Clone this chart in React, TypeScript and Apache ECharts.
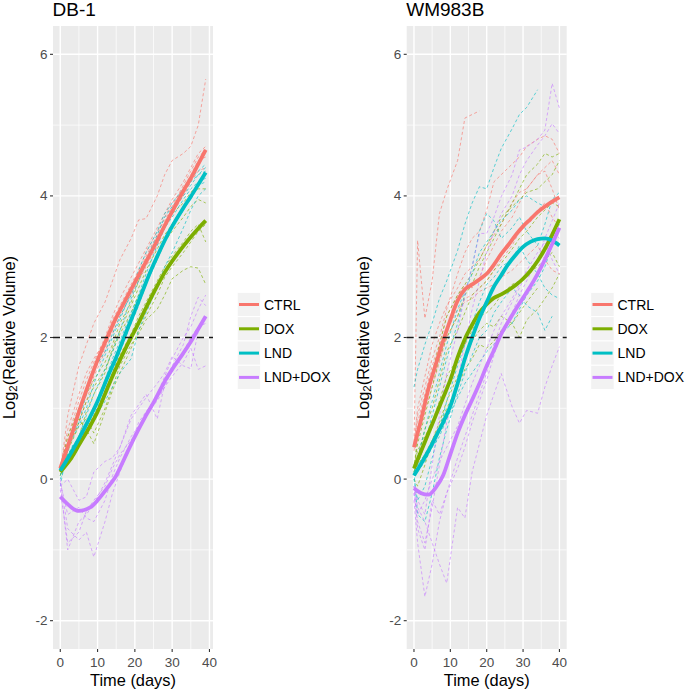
import React, { useEffect, useRef } from 'react';
import * as echarts from 'echarts';

const FONT = '"Liberation Sans", Arial, Helvetica, sans-serif';

const GROUPS = ['CTRL', 'DOX', 'LND', 'LND+DOX'];
const COLORS = ['#F8766D', '#7CAE00', '#00BFC4', '#C77CFF'];
const PANEL_TITLES = ['DB-1', 'WM983B'];

const yMajorTicks = [-2, 0, 2, 4, 6];
const yMinorTicks = [-1, 1, 3, 5];
const xMajorTicks = [0, 10, 20, 30, 40];
const xMinorTicks = [5, 15, 25, 35];
const thresholdValue = 2;

// ---------------- DB-1 ----------------
const db1SmoothDays = [0, 3, 5, 8, 10, 13, 15, 18, 20, 23, 25, 28, 30, 33, 35, 37, 39];
const db1SmoothCTRL = [0.15, 0.62, 0.95, 1.4, 1.68, 2.05, 2.28, 2.58, 2.78, 3.07, 3.27, 3.58, 3.78, 4.07, 4.25, 4.45, 4.65];
const db1SmoothDOX = [0.1, 0.3, 0.48, 0.75, 0.95, 1.33, 1.57, 1.9, 2.1, 2.42, 2.63, 2.92, 3.08, 3.29, 3.42, 3.54, 3.65];
const db1SmoothLND = [0.12, 0.38, 0.57, 0.88, 1.1, 1.48, 1.72, 2.12, 2.38, 2.78, 3.03, 3.37, 3.57, 3.83, 3.99, 4.16, 4.33];
const db1SmoothLNDDOX = [-0.25, -0.4, -0.45, -0.4, -0.3, -0.1, 0.05, 0.38, 0.6, 0.9, 1.08, 1.38, 1.55, 1.78, 1.94, 2.12, 2.3];

const db1MouseDays = [0, 2, 5, 7, 9, 12, 14, 16, 19, 21, 23, 26, 28, 30, 33, 35, 37, 39];
const db1MiceCTRL = [
  [0.1, 0.9, 1.6, 1.9, 2.2, 2.5, 2.8, 3.1, 3.4, 3.66, 3.68, 4.0, 4.3, 4.5, 4.6, 4.7, 5.0, 5.65],
  [0.15, 0.6, 1.1, 1.4, 1.65, 2.0, 2.3, 2.55, 2.85, 3.05, 3.25, 3.55, 3.75, 3.95, 4.2, 4.4, 4.6, 4.7],
  [0.2, 0.5, 0.9, 1.3, 1.5, 1.85, 2.1, 2.4, 2.7, 2.9, 3.15, 3.45, 3.7, 3.9, 4.1, 4.3, 4.5, 4.55],
  [0.1, 0.4, 0.8, 1.1, 1.45, 1.8, 2.05, 2.3, 2.6, 2.8, 3.0, 3.3, 3.55, 3.75, 4.0, 4.2, 4.35, 4.4],
  [0.15, 0.7, 1.2, 1.5, 1.7, 1.95, 2.25, 2.45, 2.75, 2.95, 3.2, 3.5, 3.65, 3.85, 4.15, 4.35, 4.55, 4.65],
];
const db1MiceDOX = [
  [0.05, 0.3, 0.6, 0.95, 1.2, 1.5, 1.85, 2.1, 2.45, 2.7, 2.95, 3.25, 3.45, 3.6, 3.85, 4.0, 4.1, 4.1],
  [0.1, 0.45, 0.8, 1.1, 1.3, 1.55, 1.8, 2.05, 2.35, 2.6, 2.8, 3.1, 3.35, 3.5, 3.7, 3.85, 3.95, 3.9],
  [0.1, 0.35, 0.55, 0.7, 0.9, 1.2, 1.5, 1.75, 2.05, 2.3, 2.5, 2.8, 3.0, 3.15, 3.35, 3.5, 3.6, 3.35],
  [0.05, 0.4, 0.75, 0.85, 0.65, 1.0, 1.3, 1.6, 1.9, 2.05, 2.25, 2.4, 2.6, 2.83, 2.95, 3.0, 2.98, 2.75],
  [0.15, 0.6, 1.0, 1.2, 1.4, 1.65, 1.9, 2.2, 2.5, 2.8, 3.05, 3.35, 3.6, 3.75, 3.9, 4.05, 4.15, 4.3],
  [0.1, 0.5, 0.85, 0.7, 0.5, 0.95, 1.25, 1.5, 1.85, 2.1, 2.3, 2.6, 2.85, 3.0, 3.2, 3.35, 3.5, 3.6],
];
const db1MiceLND = [
  [0.1, 0.35, 0.6, 0.9, 1.2, 1.55, 1.8, 2.1, 2.55, 2.8, 3.1, 3.45, 3.7, 3.85, 4.05, 4.2, 4.3, 4.35],
  [0.15, 0.45, 0.75, 1.0, 1.35, 1.75, 2.0, 2.25, 2.65, 2.95, 3.2, 3.5, 3.75, 3.9, 4.1, 4.25, 4.35, 4.45],
  [0.0, 0.3, 0.5, 0.75, 1.0, 1.4, 1.7, 1.95, 2.35, 2.6, 2.9, 3.3, 3.55, 3.7, 3.95, 4.1, 4.2, 4.25],
  [0.1, 0.4, 0.55, 0.65, 0.9, 1.25, 1.5, 1.8, 2.2, 2.45, 2.75, 3.1, 3.35, 3.55, 3.8, 4.0, 4.15, 4.2],
  [0.05, 0.5, 0.8, 1.2, 1.55, 1.8, 2.05, 2.3, 2.6, 2.85, 3.05, 3.4, 3.6, 3.8, 4.0, 4.15, 4.3, 4.4],
  [-0.1, 0.45, 0.5, 0.65, 0.85, 1.1, 1.3, 1.5, 1.7, 2.1, 2.35, 2.7, 3.0, 3.2, 3.55, 3.8, 4.0, 4.1],
];
const db1MiceLNDDOX = [
  [-0.05, -1.0, -0.6, -0.5, -0.35, -0.05, 0.2, 0.45, 0.85, 1.0, 1.15, 1.35, 1.5, 1.73, 1.6, 1.56, 2.1, 2.3],
  [0.0, -0.7, -0.86, -0.75, -1.1, -0.6, -0.2, 0.1, 0.5, 0.8, 0.95, 1.1, 1.3, 1.55, 1.8, 2.0, 2.15, 2.2],
  [-0.1, 0.0, -0.3, -0.25, 0.1, 0.25, 0.3, 0.45, 0.9, 1.05, 1.2, 0.85, 1.35, 1.6, 1.9, 2.3, 2.57, 2.45],
  [-0.05, -0.5, -0.4, -0.55, -0.6, -0.3, 0.05, 0.3, 0.6, 0.75, 0.9, 1.2, 1.45, 1.7, 2.0, 2.15, 2.4, 2.6],
  [-0.15, -0.9, -0.75, -0.45, -0.3, -0.1, 0.15, 0.35, 0.55, 0.7, 0.95, 1.15, 1.3, 1.45, 1.65, 1.85, 1.55, 1.6],
];

// ---------------- WM983B ----------------
const wmSmoothDays = [0, 2, 4, 6, 8, 10, 12, 14, 16, 18, 20, 22, 24, 26, 28, 30, 32, 34, 36, 38, 40];
const wmSmoothCTRL = [0.45, 0.85, 1.28, 1.62, 1.95, 2.25, 2.52, 2.68, 2.75, 2.82, 2.9, 3.03, 3.18, 3.31, 3.45, 3.57, 3.67, 3.77, 3.85, 3.92, 3.98];
const wmSmoothDOX = [0.15, 0.4, 0.65, 0.9, 1.15, 1.4, 1.72, 1.98, 2.18, 2.35, 2.47, 2.56, 2.61, 2.67, 2.74, 2.83, 2.94, 3.08, 3.25, 3.45, 3.67];
const wmSmoothLND = [0.05, 0.22, 0.4, 0.6, 0.8, 1.03, 1.35, 1.7, 2.0, 2.27, 2.5, 2.72, 2.88, 3.04, 3.17, 3.28, 3.35, 3.39, 3.4, 3.37, 3.3];
const wmSmoothLNDDOX = [-0.13, -0.2, -0.22, -0.12, 0.05, 0.35, 0.65, 0.9, 1.12, 1.35, 1.6, 1.82, 2.05, 2.23, 2.4, 2.56, 2.72, 2.9, 3.1, 3.32, 3.55];

const wmMouseDays = [0, 1, 3, 5, 7, 9, 12, 14, 16, 18, 20, 22, 24, 27, 29, 31, 34, 36, 38, 40];
const wmMiceCTRL = [
  [0.45, 3.37, 2.27, 2.8, 3.75, 4.08, 4.5, 5.1, 5.15, 5.2],
  [0.5, 0.9, 1.3, 1.7, 2.0, 2.4, 2.9, 3.2, 3.4, 3.5, 3.8, 4.2, 4.3, 4.45, 4.55, 4.7, 4.8, 4.85, 4.8, 4.6],
  [0.4, 0.8, 1.2, 1.6, 1.9, 2.3, 2.6, 2.75, 2.7, 2.85, 3.1, 3.3, 3.5, 3.7, 3.9, 4.1, 4.3, 4.4, 4.5, 4.3],
  [0.45, 0.6, 0.95, 1.3, 1.65, 2.0, 2.3, 2.55, 2.6, 2.7, 2.8, 2.95, 3.1, 3.3, 3.5, 3.6, 3.8, 3.9, 3.7, 3.55],
  [0.5, 0.7, 1.1, 1.5, 1.8, 2.1, 2.4, 2.5, 2.55, 2.65, 2.7, 2.75, 2.85, 2.95, 3.05, 3.15, 3.3, 3.1, 2.95, 2.9],
  [0.45, 1.0, 1.45, 1.9, 2.2, 2.45, 2.7, 2.9, 3.0, 3.1, 3.3, 3.45, 3.6, 3.9, 4.05, 4.1, 4.3, 4.35, 4.1, 3.8],
];
const wmMiceDOX = [
  [0.15, 0.5, 0.9, 1.3, 1.7, 2.0, 2.3, 2.6, 2.75, 3.0, 3.2, 3.4, 3.6, 3.9, 4.1, 4.3, 4.45, 4.6, 4.55, 4.6],
  [0.1, 0.3, 0.7, 1.0, 1.4, 1.8, 2.1, 2.35, 2.6, 2.7, 2.8, 2.95, 3.05, 3.25, 3.4, 3.5, 3.7, 3.8, 3.9, 3.85],
  [0.2, 0.4, 0.6, 0.8, 1.1, 1.45, 1.7, 1.9, 2.1, 2.3, 2.35, 2.45, 2.6, 2.75, 2.8, 2.9, 3.0, 3.1, 3.2, 3.0],
  [0.1, 0.2, 0.35, 0.55, 0.8, 1.1, 1.45, 1.7, 1.95, 2.1, 2.2, 2.15, 2.3, 2.2, 2.0, 2.25, 2.4, 2.55, 2.7, 2.9],
  [0.15, 0.6, 1.1, 1.5, 1.9, 2.3, 2.6, 2.75, 2.9, 3.1, 3.3, 3.5, 3.7, 3.85, 3.95, 4.05, 4.1, 4.2, 4.3, 4.5],
  [0.0, -0.1, 0.2, 0.55, 0.75, 1.0, 1.3, 1.55, 1.7, 1.9, 1.85, 1.95, 2.1, 2.2, 2.35, 2.5, 2.7],
];
const wmMiceLND = [
  [1.3, 1.55, 1.9, 2.2, 2.55, 2.8, 3.23, 3.6, 3.9, 4.13, 4.1, 4.4, 4.67, 4.95, 5.15, 5.25, 5.5],
  [0.05, 0.2, 0.5, 0.9, 1.3, 1.7, 2.2, 2.6, 3.0, 3.5, 3.75, 3.65, 3.4, 3.55, 3.7, 3.5, 3.3, 3.6, 3.95, 4.05],
  [0.0, -0.3, -0.1, 0.3, 0.7, 1.1, 1.6, 1.9, 2.2, 2.5, 2.75, 2.85, 3.0, 3.1, 3.3, 3.1, 2.9, 2.7, 2.6, 2.55],
  [0.1, -0.5, -0.6, -0.2, 0.3, 0.7, 1.2, 1.5, 1.75, 2.0, 2.1, 2.35, 2.5, 2.7, 2.6, 2.45, 2.35, 2.1, 2.3],
  [0.05, 0.1, 0.25, 0.45, 0.6, 0.85, 1.15, 1.35, 1.5, 1.65, 1.8, 1.9, 2.05, 2.2, 2.4, 2.6, 2.8, 3.0, 3.3, 3.6],
  [0.1, 0.3, 0.7, 1.1, 1.5, 1.9, 2.4, 2.65, 2.9, 3.2, 3.35, 3.5, 3.65, 3.8, 3.95, 4.0, 3.9, 3.85, 3.95],
];
const wmMiceLNDDOX = [
  [-0.1, -0.3, -0.5, 0.2, 0.9, 1.5, 2.1, 2.6, 3.0, 3.47, 3.47, 3.7, 3.99, 4.3, 4.65, 4.69, 4.8, 4.93, 5.59, 5.24],
  [-0.2, -0.6, -0.9, -0.4, 0.2, 0.8, 1.4, 1.9, 2.4, 2.8, 3.2, 3.5, 3.75, 4.0, 4.3, 4.5, 4.72, 4.85, 5.02, 4.88],
  [-0.3, -0.9, -1.66, -1.2, -0.6, -0.2, 0.3, 0.6, 0.9, 1.2, 1.5, 1.9, 2.2, 2.5, 2.7, 2.9, 3.1, 3.3, 3.5, 3.4],
  [-0.1, -0.4, -0.6, -0.9, -1.2, -1.47, -0.4, -0.55, 0.1, 0.5, 0.9, 1.2, 1.49, 1.02, 0.79, 0.97, 0.93, 1.3, 1.6, 1.87],
  [-0.2, -0.5, -0.3, 0.0, 0.25, 0.45, 0.75, 1.05, 1.35, 1.6, 1.85, 2.1, 2.3, 2.55, 2.75, 2.95, 3.2, 3.35, 3.1, 2.9],
  [-0.1, -0.7, -1.0, -0.3, -0.5, -0.2, 0.15, 0.45, 0.8, 1.1, 1.4, 1.75, 2.05, 2.35, 2.6, 2.8, 3.1, 3.4, 3.65, 3.9],
];

// ---------------- layout ----------------
const GRIDS = [
  { left: 53, top: 26, width: 160, height: 623, xMin: -1.95, xMax: 40.95, legendLeft: 239 },
  { left: 406.7, top: 26, width: 160, height: 623, xMin: -2, xMax: 42, legendLeft: 592.5 },
];
const Y_MIN = -2.4;
const Y_MAX = 6.4;
const LEGEND_TOP = 296.5;
const LEGEND_ROW = 24.3;
const LEGEND_TEXT_H = 16;

const PANELS = [
  {
    smoothDays: db1SmoothDays,
    smooth: [db1SmoothCTRL, db1SmoothDOX, db1SmoothLND, db1SmoothLNDDOX],
    mouseDays: db1MouseDays,
    mice: [db1MiceCTRL, db1MiceDOX, db1MiceLND, db1MiceLNDDOX],
  },
  {
    smoothDays: wmSmoothDays,
    smooth: [wmSmoothCTRL, wmSmoothDOX, wmSmoothLND, wmSmoothLNDDOX],
    mouseDays: wmMouseDays,
    mice: [wmMiceCTRL, wmMiceDOX, wmMiceLND, wmMiceLNDDOX],
  },
];

function axisRenderItem(params: any, api: any) {
  const v = api.value(0);
  const axis = api.value(1);
  const major = api.value(2) === 1;
  const cs = params.coordSys;
  const children: any[] = [];
  if (axis === 1) {
    const y = api.coord([0, v])[1];
    children.push({
      type: 'line',
      shape: { x1: cs.x, y1: y, x2: cs.x + cs.width, y2: y },
      style: { stroke: '#FFFFFF', lineWidth: major ? 1.4 : 0.7 },
    });
    if (major) {
      children.push({
        type: 'line',
        shape: { x1: cs.x - 3, y1: y, x2: cs.x, y2: y },
        style: { stroke: '#333333', lineWidth: 1.1 },
      });
      children.push({
        type: 'text',
        x: cs.x - 5.5,
        y: y,
        style: {
          text: String(v),
          align: 'right',
          verticalAlign: 'middle',
          fill: '#4D4D4D',
          fontSize: 13.5,
          fontFamily: FONT,
        },
      });
    }
  } else {
    const x = api.coord([v, 0])[0];
    children.push({
      type: 'line',
      shape: { x1: x, y1: cs.y, x2: x, y2: cs.y + cs.height },
      style: { stroke: '#FFFFFF', lineWidth: major ? 1.4 : 0.7 },
    });
    if (major) {
      const yb = cs.y + cs.height;
      children.push({
        type: 'line',
        shape: { x1: x, y1: yb, x2: x, y2: yb + 3 },
        style: { stroke: '#333333', lineWidth: 1.1 },
      });
      children.push({
        type: 'text',
        x: x,
        y: yb + 13.5,
        style: {
          text: String(v),
          align: 'center',
          verticalAlign: 'middle',
          fill: '#4D4D4D',
          fontSize: 13.5,
          fontFamily: FONT,
        },
      });
    }
  }
  return { type: 'group', children };
}

function buildOption() {
  const series: any[] = [];
  const axisData = [
    ...yMajorTicks.map((v) => [v, 1, 1]),
    ...yMinorTicks.map((v) => [v, 1, 0]),
    ...xMajorTicks.map((v) => [v, 0, 1]),
    ...xMinorTicks.map((v) => [v, 0, 0]),
  ];

  PANELS.forEach((panel, p) => {
    series.push({
      type: 'custom',
      name: 'axes' + p,
      xAxisIndex: p,
      yAxisIndex: p,
      data: axisData,
      renderItem: axisRenderItem,
      clip: false,
      silent: true,
      z: 1,
    });
    panel.mice.forEach((groupMice, g) => {
      groupMice.forEach((vals, m) => {
        series.push({
          type: 'line',
          name: GROUPS[g] + ' mouse ' + (m + 1),
          xAxisIndex: p,
          yAxisIndex: p,
          data: vals.map((v, i) => [panel.mouseDays[i], v]),
          showSymbol: false,
          symbol: 'none',
          silent: true,
          color: COLORS[g],
          lineStyle: { color: COLORS[g], width: 0.8, type: [3, 2.5], opacity: 0.8 },
          z: 2,
        });
      });
    });
    panel.smooth.forEach((vals, g) => {
      const s: any = {
        type: 'line',
        name: GROUPS[g],
        xAxisIndex: p,
        yAxisIndex: p,
        data: vals.map((v, i) => [panel.smoothDays[i], v]),
        showSymbol: false,
        symbol: 'none',
        smooth: 0.3,
        silent: true,
        color: COLORS[g],
        itemStyle: { color: COLORS[g] },
        lineStyle: { color: COLORS[g], width: 3.8 },
        z: 3,
      };
      if (g === GROUPS.length - 1) {
        s.markLine = {
          silent: true,
          symbol: 'none',
          label: { show: false },
          lineStyle: { color: '#1A1A1A', type: [7, 5], width: 1.4 },
          data: [{ yAxis: thresholdValue }],
          z: 4,
        };
      }
      series.push(s);
    });
  });

  const graphicRects: any[] = [];
  GRIDS.forEach((g) => {
    GROUPS.forEach((_, i) => {
      graphicRects.push({
        type: 'rect',
        shape: {
          x: g.legendLeft - 1.8,
          y: LEGEND_TOP + LEGEND_TEXT_H / 2 - LEGEND_ROW / 2 + i * LEGEND_ROW,
          width: 23.5,
          height: LEGEND_ROW,
        },
        style: { fill: '#F2F2F2', stroke: '#FFFFFF', lineWidth: 1 },
        z: 0,
        silent: true,
      });
    });
  });

  return {
    animation: false,
    backgroundColor: '#FFFFFF',
    textStyle: { fontFamily: FONT },
    title: PANEL_TITLES.map((t, i) => ({
      text: t,
      left: GRIDS[i].left - 0.5,
      top: 0,
      padding: 0,
      textStyle: { fontSize: 19, fontWeight: 'normal', color: '#000000', fontFamily: FONT },
    })),
    grid: GRIDS.map((g) => ({
      left: g.left,
      top: g.top,
      width: g.width,
      height: g.height,
      show: true,
      backgroundColor: '#EBEBEB',
      borderWidth: 0,
      containLabel: false,
    })),
    xAxis: GRIDS.map((g, i) => ({
      type: 'value',
      gridIndex: i,
      min: g.xMin,
      max: g.xMax,
      axisLine: { show: false },
      axisTick: { show: false },
      axisLabel: { show: false },
      splitLine: { show: false },
      name: 'Time (days)',
      nameLocation: 'middle',
      nameGap: 23,
      nameTextStyle: { fontSize: 16.4, color: '#000000', fontFamily: FONT },
    })),
    yAxis: GRIDS.map((g, i) => ({
      type: 'value',
      gridIndex: i,
      min: Y_MIN,
      max: Y_MAX,
      axisLine: { show: false },
      axisTick: { show: false },
      axisLabel: { show: false },
      splitLine: { show: false },
      name: '{a|Log}{b|2}{a|(Relative Volume)}',
      nameLocation: 'middle',
      nameRotate: 90,
      nameGap: 34,
      nameTextStyle: {
        color: '#000000',
        fontFamily: FONT,
        rich: {
          a: { fontSize: 16.4, color: '#000000', fontFamily: FONT },
          b: { fontSize: 11.5, color: '#000000', fontFamily: FONT, padding: [8, 0, 0, 0] },
        },
      },
    })),
    legend: GRIDS.map((g) => ({
      data: GROUPS,
      orient: 'vertical',
      left: g.legendLeft,
      top: LEGEND_TOP,
      padding: 0,
      itemWidth: 20,
      itemHeight: 3,
      itemGap: LEGEND_ROW - LEGEND_TEXT_H,
      icon: 'rect',
      selectedMode: false,
      textStyle: { fontSize: 14, color: '#000000', lineHeight: LEGEND_TEXT_H, fontFamily: FONT },
      z: 5,
    })),
    graphic: graphicRects,
    series,
  };
}

export default function App() {
  const ref = useRef<HTMLDivElement>(null);
  useEffect(() => {
    if (!ref.current) return;
    const chart = echarts.init(ref.current, null, { renderer: 'svg' });
    chart.setOption(buildOption() as any);
    return () => chart.dispose();
  }, []);
  return (
    <div
      ref={ref}
      style={{ position: 'absolute', left: 0, top: 0, width: 685, height: 693, background: '#FFFFFF' }}
    />
  );
}
